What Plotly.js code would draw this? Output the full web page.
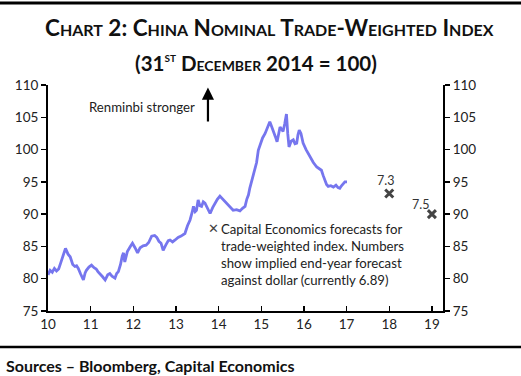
<!DOCTYPE html>
<html>
<head>
<meta charset="utf-8">
<script src="https://cdn.plot.ly/plotly-3.0.1.min.js"></script>
<style>
html,body{margin:0;padding:0;background:#fff;}
#chart{width:521px;height:376px;}
</style>
</head>
<body>
<div id="chart"></div>
<script>
// Trade-weighted index (31 Dec 2014 = 100), x = year (10 = 2010)
const years = [10.0,10.05,10.1,10.15,10.2,10.25,10.3,10.36,10.41,10.47,10.52,10.58,10.63,10.67,10.71,10.76,10.83,10.87,10.9,10.96,
11.02,11.08,11.13,11.17,11.22,11.28,11.34,11.4,11.45,11.5,11.57,11.61,11.65,11.7,11.74,11.77,11.8,11.86,11.93,11.98,
12.04,12.1,12.16,12.23,12.3,12.36,12.43,12.5,12.55,12.6,12.65,12.7,12.76,12.82,12.86,12.92,12.98,
13.05,13.12,13.21,13.27,13.33,13.38,13.41,13.45,13.48,13.52,13.56,13.6,13.64,13.68,13.74,13.8,13.86,13.91,13.97,
14.03,14.1,14.19,14.27,14.34,14.42,14.5,14.56,14.62,14.66,14.7,14.73,14.79,14.85,14.89,14.93,14.98,
15.03,15.09,15.14,15.2,15.24,15.28,15.33,15.37,15.41,15.44,15.48,15.51,15.55,15.59,15.62,15.65,15.7,15.75,15.79,15.83,15.86,15.89,15.93,15.98,
16.05,16.14,16.22,16.3,16.36,16.41,16.45,16.49,16.53,16.57,16.63,16.69,16.75,16.8,16.84,16.88,16.92,16.96,17.01];
const index = [80.6,81.3,81.0,81.6,81.2,81.5,82.5,83.8,84.7,83.8,83.4,82.2,81.9,82.0,81.6,80.8,79.8,80.9,81.3,81.8,
82.1,81.7,81.5,81.1,80.8,80.3,79.8,80.6,80.8,80.4,80.1,80.8,81.1,82.2,83.5,84.0,82.6,84.2,85.0,85.5,
84.8,84.0,84.8,85.1,85.2,85.6,86.6,86.7,86.4,85.8,85.5,84.4,85.2,85.9,86.0,85.7,86.0,
86.4,86.6,87.0,88.2,89.1,90.3,91.2,90.4,90.6,92.2,91.3,91.2,91.9,91.7,90.8,90.1,91.0,91.7,92.3,
92.8,92.3,91.7,91.0,90.6,90.7,90.5,90.9,91.2,92.3,93.0,94.0,95.5,96.8,98.0,99.9,100.8,
101.8,102.5,103.3,104.3,103.6,103.0,102.0,101.2,102.6,103.5,103.1,102.8,104.0,105.5,102.5,100.4,101.3,101.5,100.9,101.0,102.3,103.0,102.5,101.0,
100.0,98.9,98.0,97.3,97.0,96.8,96.0,95.3,94.6,94.3,94.4,94.2,94.5,94.1,94.0,94.4,94.7,95.0,95.0];

// Capital Economics forecasts
const fcYears = [18.0, 19.0];
const fcValues = [93.2, 90.0];
const fcLabels = ['7.3', '7.5'];

const yTicks = [75,80,85,90,95,100,105,110];
const xTicks = [10,11,12,13,14,15,16,17,18,19];

const titleLine1 = 'Chart 2: China Nominal Trade-Weighted Index';
const titleLine2 = '(31<sup>st</sup> December 2014 = 100)';
const noteText = 'Capital Economics forecasts for<br>trade-weighted index. Numbers<br>show implied end-year forecast<br>against dollar (currently 6.89)';
const arrowText = 'Renminbi stronger';
const sourceText = 'Sources – Bloomberg, Capital Economics';

const FONT = 'Lato, "Open Sans", sans-serif';
const TXT = '#222';

const traces = [
  {x: years, y: index, type: 'scatter', mode: 'lines',
   line: {color: '#7676ee', width: 2.8}, hoverinfo: 'skip', showlegend: false},
  {x: fcYears, y: fcValues, type: 'scatter', mode: 'markers',
   marker: {symbol: 'x-thin', size: 8, line: {width: 3, color: '#444'}, color: '#444'},
   showlegend: false},
  {x: [], y: [], yaxis: 'y2', showlegend: false}
];

const ann = [];
ann.push({text: '<b>' + titleLine1 + '</b>', xref: 'paper', yref: 'paper', x: 0.5, y: 1, xanchor: 'center', yanchor: 'middle',
  showarrow: false, font: {family: FONT, size: 22.5, color: '#111', variant: 'small-caps'}});
ann.push({text: '<b>' + titleLine2 + '</b>', xref: 'paper', yref: 'paper', x: 0.5, y: 1, xanchor: 'center', yanchor: 'middle',
  showarrow: false, font: {family: FONT, size: 20.5, color: '#111', variant: 'small-caps'}});
ann.push({text: arrowText, xref: 'x', yref: 'y', x: 13.5, y: 106.6, xanchor: 'right', yanchor: 'middle',
  showarrow: false, font: {family: FONT, size: 13.2, color: TXT}});
ann.push({text: '', xref: 'x', yref: 'y', x: 13.75, y: 109.6, axref: 'x', ayref: 'y', ax: 13.75, ay: 104.1,
  showarrow: true, arrowhead: 2, arrowsize: 1.1, arrowwidth: 2.2, arrowcolor: '#000'});
ann.push({text: '<b>✕</b>', xref: 'x', yref: 'y', x: 13.88, y: 87.85, xanchor: 'center', yanchor: 'middle',
  showarrow: false, font: {family: '"DejaVu Sans", sans-serif', size: 13, color: '#444'}});
ann.push({text: noteText, xref: 'x', yref: 'y', x: 14.01, y: 89.25, xanchor: 'left', yanchor: 'top', align: 'left',
  showarrow: false, font: {family: FONT, size: 13.2, color: TXT}});
for (let i = 0; i < fcYears.length; i++) {
  ann.push({text: fcLabels[i], xref: 'x', yref: 'y', x: fcYears[i], y: fcValues[i],
    xanchor: 'center', yanchor: 'bottom', xshift: i === 0 ? -4 : -11, yshift: i === 0 ? 3 : 0,
    showarrow: false, font: {family: FONT, size: 12.5, color: '#333'}});
}
ann.push({text: '<b>' + sourceText + '</b>', xref: 'paper', yref: 'paper', x: 0, y: 0, xanchor: 'left', yanchor: 'middle',
  showarrow: false, font: {family: FONT, size: 16, color: '#111'}});

const layout = {
  width: 521, height: 376,
  margin: {l: 48, r: 78, t: 85, b: 65},
  paper_bgcolor: '#fff', plot_bgcolor: '#fff',
  showlegend: false,
  font: {family: FONT, size: 13, color: TXT},
  xaxis: {range: [10, 19.26], tickvals: xTicks, ticktext: xTicks.map(String),
    showgrid: false, zeroline: false, showline: true, linecolor: '#000', linewidth: 2,
    ticks: 'inside', ticklen: 5, tickwidth: 1.5, tickcolor: '#000',
    tickfont: {family: FONT, size: 13.5, color: TXT}, fixedrange: true},
  yaxis: {range: [75, 110], tickvals: yTicks, showgrid: false, zeroline: false,
    showline: true, linecolor: '#000', linewidth: 2, ticks: 'outside', ticklen: 5, tickwidth: 1.5, tickcolor: '#000',
    tickfont: {family: FONT, size: 13.5, color: TXT}, fixedrange: true},
  yaxis2: {range: [75, 110], tickvals: yTicks, overlaying: 'y', side: 'right', showgrid: false, zeroline: false,
    showline: true, linecolor: '#000', linewidth: 2, ticks: 'outside', ticklen: 5, tickwidth: 1.5, tickcolor: '#000',
    tickfont: {family: FONT, size: 13.5, color: TXT}, fixedrange: true},
  annotations: ann,
  shapes: [
    {type: 'line', xref: 'paper', yref: 'paper', x0: 0, x1: 1, y0: 1, y1: 1, line: {color: '#000', width: 3}},
    {type: 'line', xref: 'paper', yref: 'paper', x0: 0, x1: 1, y0: 0, y1: 0, line: {color: '#000', width: 2.5}}
  ]
};

// Convert page-pixel positions to paper coords for the decorative frame items
const plotH = 376 - layout.margin.t - layout.margin.b;
const plotW = 521 - layout.margin.l - layout.margin.r;
function py(pix) { return (376 - layout.margin.b - pix) / plotH; }
function px(pix) { return (pix - layout.margin.l) / plotW; }
ann[0].y = py(28);  ann[0].x = px(269);
ann[1].y = py(62);  ann[1].x = px(256);
ann[ann.length - 1].y = py(365);
ann[ann.length - 1].x = px(4);
layout.shapes[0].y0 = layout.shapes[0].y1 = py(3);
layout.shapes[0].x0 = px(0); layout.shapes[0].x1 = px(521);
layout.shapes[1].y0 = layout.shapes[1].y1 = py(347);
layout.shapes[1].x0 = px(0); layout.shapes[1].x1 = px(521);

Plotly.newPlot('chart', traces, layout, {staticPlot: true, displayModeBar: false});
</script>
</body>
</html>
